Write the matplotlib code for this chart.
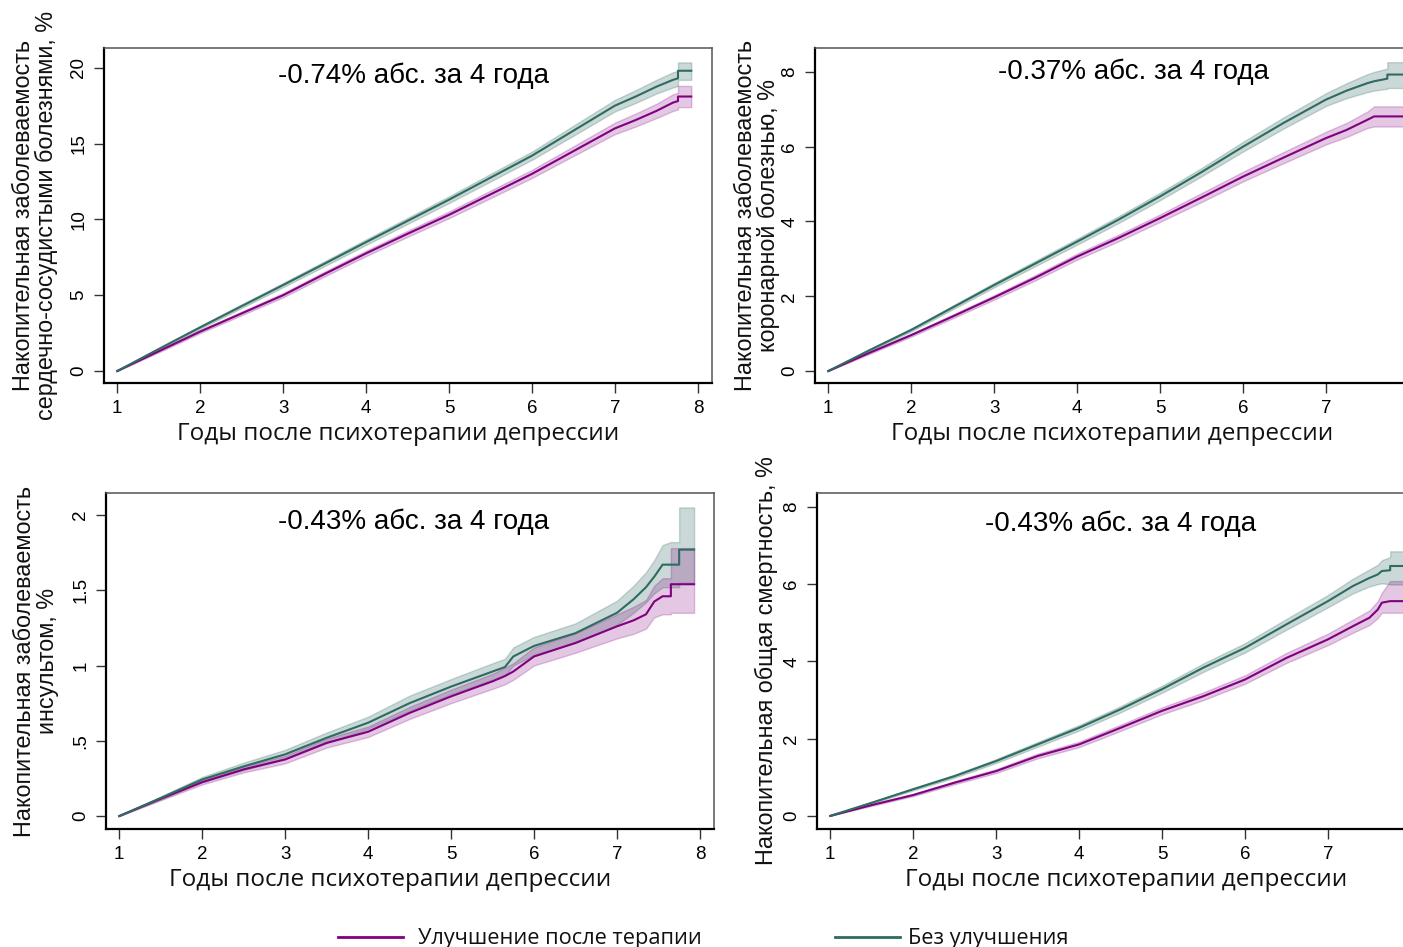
import matplotlib
matplotlib.use("Agg")
import matplotlib.pyplot as plt
from matplotlib.lines import Line2D

# ---------------- data ----------------
years1 = [1, 1.5, 2, 2.5, 3, 3.5, 4, 4.5, 5, 5.5, 6, 6.5, 7, 7.25, 7.5, 7.7, 7.76, 7.76, 7.92]
teal1 = [0, 1.45, 2.88, 4.28, 5.67, 7.08, 8.5, 9.9, 11.3, 12.75, 14.2, 15.85, 17.5, 18.1, 18.75, 19.2, 19.3, 19.8, 19.8]
teal1_lo = [0, 1.38, 2.78, 4.16, 5.53, 6.92, 8.32, 9.7, 11.08, 12.5, 13.93, 15.52, 17.12, 17.68, 18.3, 18.7, 18.8, 19.2, 19.2]
teal1_hi = [0, 1.52, 2.98, 4.4, 5.81, 7.24, 8.68, 10.1, 11.52, 13.0, 14.47, 16.18, 17.88, 18.52, 19.2, 19.7, 19.8, 20.35, 20.35]
purple1 = [0, 1.3, 2.6, 3.8, 5.0, 6.4, 7.76, 9.05, 10.3, 11.65, 13.0, 14.5, 16.0, 16.55, 17.15, 17.7, 17.8, 18.1, 18.1]
purple1_lo = [0, 1.23, 2.5, 3.68, 4.86, 6.24, 7.58, 8.85, 10.08, 11.4, 12.73, 14.18, 15.62, 16.12, 16.68, 17.15, 17.25, 17.4, 17.4]
purple1_hi = [0, 1.37, 2.7, 3.92, 5.14, 6.56, 7.94, 9.25, 10.52, 11.9, 13.27, 14.82, 16.38, 16.98, 17.62, 18.25, 18.35, 18.8, 18.8]

years2 = [1, 1.5, 2, 2.5, 3, 3.5, 4, 4.5, 5, 5.5, 6, 6.5, 7, 7.25, 7.5, 7.58, 7.74, 7.74, 7.95]
teal2 = [0, 0.56, 1.10, 1.70, 2.30, 2.88, 3.46, 4.05, 4.67, 5.32, 6.0, 6.65, 7.26, 7.5, 7.7, 7.75, 7.82, 7.93, 7.93]
teal2_lo = [0, 0.53, 1.06, 1.65, 2.24, 2.81, 3.38, 3.96, 4.57, 5.21, 5.87, 6.5, 7.09, 7.3, 7.46, 7.5, 7.55, 7.57, 7.57]
teal2_hi = [0, 0.59, 1.14, 1.75, 2.36, 2.95, 3.54, 4.14, 4.77, 5.43, 6.13, 6.8, 7.43, 7.7, 7.94, 8.0, 8.09, 8.26, 8.26]
purple2 = [0, 0.49, 0.96, 1.46, 1.97, 2.5, 3.06, 3.56, 4.09, 4.64, 5.2, 5.72, 6.23, 6.45, 6.72, 6.81, 6.81, 6.81, 6.81]
purple2_lo = [0, 0.46, 0.92, 1.41, 1.91, 2.43, 2.98, 3.47, 3.99, 4.52, 5.07, 5.57, 6.06, 6.26, 6.5, 6.54, 6.54, 6.54, 6.54]
purple2_hi = [0, 0.52, 1.0, 1.51, 2.03, 2.57, 3.14, 3.65, 4.19, 4.76, 5.33, 5.87, 6.4, 6.64, 6.94, 7.08, 7.08, 7.08, 7.08]

years3 = [1, 1.5, 2, 2.5, 3, 3.5, 4, 4.5, 5, 5.5, 5.65, 5.75, 6, 6.5, 7, 7.2, 7.35, 7.45, 7.55, 7.65, 7.65, 7.75, 7.75, 7.93]
teal3 = [0, 0.12, 0.243, 0.33, 0.41, 0.52, 0.62, 0.75, 0.86, 0.96, 0.99, 1.06, 1.13, 1.215, 1.35, 1.44, 1.52, 1.59, 1.67, 1.67, 1.67, 1.67, 1.77, 1.77]
teal3_lo = [0, 0.11, 0.225, 0.305, 0.38, 0.485, 0.58, 0.70, 0.81, 0.905, 0.935, 1.0, 1.07, 1.15, 1.27, 1.35, 1.42, 1.48, 1.52, 1.52, 1.52, 1.52, 1.55, 1.55]
teal3_hi = [0, 0.13, 0.26, 0.355, 0.44, 0.555, 0.66, 0.80, 0.91, 1.015, 1.045, 1.12, 1.19, 1.28, 1.43, 1.53, 1.62, 1.70, 1.80, 1.82, 1.82, 1.82, 2.05, 2.05]
purple3 = [0, 0.115, 0.225, 0.31, 0.376, 0.486, 0.56, 0.685, 0.795, 0.895, 0.93, 0.96, 1.06, 1.15, 1.26, 1.30, 1.34, 1.425, 1.46, 1.46, 1.54, 1.54, 1.54, 1.54]
purple3_lo = [0, 0.105, 0.21, 0.29, 0.35, 0.455, 0.525, 0.645, 0.75, 0.845, 0.875, 0.905, 1.0, 1.085, 1.18, 1.21, 1.245, 1.32, 1.34, 1.34, 1.35, 1.35, 1.35, 1.35]
purple3_hi = [0, 0.125, 0.24, 0.33, 0.4, 0.515, 0.595, 0.725, 0.84, 0.945, 0.985, 1.015, 1.12, 1.215, 1.34, 1.39, 1.435, 1.53, 1.58, 1.58, 1.78, 1.78, 1.78, 1.78]

years4 = [1, 1.5, 2, 2.5, 3, 3.5, 4, 4.5, 5, 5.5, 6, 6.5, 7, 7.3, 7.5, 7.6, 7.65, 7.75, 7.75, 7.95]
teal4 = [0, 0.34, 0.69, 1.03, 1.42, 1.85, 2.28, 2.76, 3.28, 3.84, 4.35, 4.96, 5.56, 5.95, 6.16, 6.25, 6.34, 6.36, 6.47, 6.47]
teal4_lo = [0, 0.32, 0.66, 0.99, 1.37, 1.79, 2.21, 2.68, 3.19, 3.73, 4.23, 4.82, 5.40, 5.76, 5.94, 6.0, 6.02, 6.0, 5.99, 5.99]
teal4_hi = [0, 0.36, 0.72, 1.07, 1.47, 1.91, 2.35, 2.84, 3.37, 3.95, 4.47, 5.10, 5.72, 6.14, 6.38, 6.5, 6.62, 6.7, 6.85, 6.85]
purple4 = [0, 0.28, 0.54, 0.86, 1.16, 1.55, 1.85, 2.28, 2.72, 3.10, 3.53, 4.09, 4.57, 4.91, 5.13, 5.34, 5.52, 5.56, 5.56, 5.56]
purple4_lo = [0, 0.26, 0.51, 0.82, 1.11, 1.49, 1.78, 2.2, 2.63, 3.0, 3.42, 3.96, 4.42, 4.74, 4.94, 5.12, 5.26, 5.26, 5.26, 5.26]
purple4_hi = [0, 0.30, 0.57, 0.9, 1.21, 1.61, 1.92, 2.36, 2.81, 3.2, 3.64, 4.22, 4.72, 5.08, 5.32, 5.56, 5.78, 6.08, 6.08, 6.08]

x_ticks_left = [1, 2, 3, 4, 5, 6, 7, 8]
x_ticks_right = [1, 2, 3, 4, 5, 6, 7]
y_ticks = [[0, 5, 10, 15, 20], [0, 2, 4, 6, 8], [0, 0.5, 1, 1.5, 2], [0, 2, 4, 6, 8]]
y_ticklabels = [["0", "5", "10", "15", "20"], ["0", "2", "4", "6", "8"],
                ["0", ".5", "1", "1.5", "2"], ["0", "2", "4", "6", "8"]]
y_labels = ["Накопительная заболеваемость\nсердечно-сосудистыми болезнями, %",
            "Накопительная заболеваемость\nкоронарной болезнью, %",
            "Накопительная заболеваемость\nинсультом, %",
            "Накопительная общая смертность, %"]
annotations = ["-0.74% абс. за 4 года", "-0.37% абс. за 4 года",
               "-0.43% абс. за 4 года", "-0.43% абс. за 4 года"]
x_label = "Годы после психотерапии депрессии"
legend_labels = ["Улучшение после терапии", "Без улучшения"]

# ---------------- style ----------------
PURPLE = "#800080"
TEAL = "#2E6B60"
W, H = 1403, 947
fig = plt.figure(figsize=(W / 100, H / 100), dpi=100)

def fx(px):
    return px / W

def fy(py):
    return 1 - py / H

panels = [
    dict(left=104, top=48, bottom=383, ylim=(-0.79, 21.3), ylab_x=35, xlab_x=398, xt=x_ticks_left,
         ann=(414, 76), data=(years1, teal1, teal1_lo, teal1_hi, purple1, purple1_lo, purple1_hi)),
    dict(left=815, top=48, bottom=383, ylim=(-0.32, 8.64), ylab_x=757, xlab_x=1112, xt=x_ticks_right,
         ann=(1133, 72), data=(years2, teal2, teal2_lo, teal2_hi, purple2, purple2_lo, purple2_hi)),
    dict(left=106, top=493, bottom=829, ylim=(-0.086, 2.146), ylab_x=36, xlab_x=390, xt=x_ticks_left,
         ann=(414, 522), data=(years3, teal3, teal3_lo, teal3_hi, purple3, purple3_lo, purple3_hi)),
    dict(left=817, top=493, bottom=829, ylim=(-0.34, 8.36), ylab_x=766, xlab_x=1126, xt=x_ticks_right,
         ann=(1121, 524), data=(years4, teal4, teal4_lo, teal4_hi, purple4, purple4_lo, purple4_hi)),
]

AX_W = 608
for i, p in enumerate(panels):
    ax = fig.add_axes([fx(p["left"]), fy(p["bottom"]), fx(AX_W), (p["bottom"] - p["top"]) / H])
    yrs, t, tlo, thi, pu, plo, phi = p["data"]
    ax.fill_between(yrs, tlo, thi, color=TEAL, alpha=0.25, lw=1.0, edgecolor=(0.18, 0.42, 0.38, 0.35))
    ax.fill_between(yrs, plo, phi, color=PURPLE, alpha=0.22, lw=1.0, edgecolor=(0.5, 0, 0.5, 0.3))
    ax.plot(yrs, pu, color=PURPLE, lw=1.5, zorder=3)
    ax.plot(yrs, t, color=TEAL, lw=1.5, zorder=4)
    ax.set_xlim(0.84, 8.17)
    ax.set_ylim(*p["ylim"])
    ax.set_xticks(p["xt"])
    ax.set_xticklabels([str(v) for v in p["xt"]], fontsize=13.5, family="Liberation Sans")
    ax.set_yticks(y_ticks[i])
    ax.set_yticklabels(y_ticklabels[i], fontsize=13.5, family="Liberation Sans")
    for lab in ax.get_yticklabels():
        lab.set_rotation(90)
        lab.set_va("center")
        lab.set_ha("right")
    ax.tick_params(axis="both", direction="out", length=7, width=1.0, color="#333333", pad=5)
    for side in ("left", "bottom"):
        ax.spines[side].set_color("black")
        ax.spines[side].set_linewidth(1.6)
    for side in ("top", "right"):
        ax.spines[side].set_color("#555555")
        ax.spines[side].set_linewidth(1.1)
    ax.text((p["ann"][0] - p["left"]) / AX_W, (p["bottom"] - p["ann"][1]) / (p["bottom"] - p["top"]),
            annotations[i], transform=ax.transAxes, ha="center", va="center",
            fontsize=20, family="Liberation Sans", color="black")
    fig.text(fx(p["ylab_x"]), fy((p["top"] + p["bottom"]) / 2), y_labels[i], rotation=90,
             ha="center", va="center", fontsize=16.8, family="Liberation Sans",
             linespacing=0.95, color="#111111")
    fig.text(fx(p["xlab_x"]), fy(p["bottom"] + 51), x_label, ha="center", va="center",
             fontsize=17.5, family="Open Sans", color="#111111")

# legend
fig.add_artist(Line2D([fx(338), fx(403)], [fy(937), fy(937)], color=PURPLE, lw=2.0))
fig.text(fx(418), fy(944), legend_labels[0], ha="left", va="baseline",
         fontsize=15.7, family="Open Sans", color="#111111")
fig.add_artist(Line2D([fx(835), fx(900)], [fy(937), fy(937)], color=TEAL, lw=2.0))
fig.text(fx(908), fy(944), legend_labels[1], ha="left", va="baseline",
         fontsize=15.7, family="Open Sans", color="#111111")

fig.savefig("out.png", dpi=100, facecolor="white")
